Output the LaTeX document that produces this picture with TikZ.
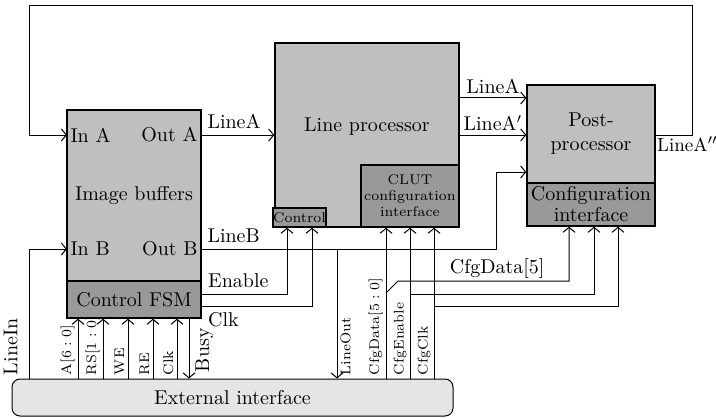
\documentclass[tikz,border=0pt]{standalone}
\usepackage{tikz}
\usetikzlibrary{arrows.meta}

\definecolor{boxgray}{gray}{0.75}
\definecolor{subgray}{gray}{0.6}
\definecolor{extgray}{gray}{0.9}

\begin{document}
\begin{tikzpicture}[x=0.5pt, y=-0.5pt, line width=0.5pt,
    >={Straight Barb[length=2.5pt,width=6pt]},
    box/.style={draw, fill=boxgray, line width=0.7pt, inner sep=0pt},
    subbox/.style={draw, fill=subgray, line width=0.7pt, inner sep=0pt},
    port/.style={inner sep=1.5pt},
    vlabel/.style={font=\scriptsize, rotate=90, inner sep=1.5pt}]
    \useasboundingbox (0,0) rectangle (716,417);

    % blocks
    \node[box, minimum width=67pt, minimum height=85.5pt] (buf) at (134,195.5) {Image buffers};
    \node[subbox, minimum width=67pt, minimum height=18.5pt] (fsm) at (134,299.5) {Control FSM};
    \node[box, minimum width=92pt, minimum height=92pt,
        label={[yshift=4pt]center:Line processor}] (lp) at (367,135) {};
    \node[subbox, minimum width=49pt, minimum height=31pt, font=\scriptsize, align=center]
        (clut) at (410,196) {CLUT\\configuration\\interface};
    \node[subbox, minimum width=24.5pt, minimum height=9.5pt, font=\scriptsize] (ctl) at (299.5,217.5) {Control};
    \node[box, minimum width=64pt, minimum height=49pt, align=center] (pp) at (591,134) {Post-\\processor};
    \node[subbox, minimum width=64pt, minimum height=21.5pt, align=center,
        font=\fontsize{10}{10.5}\selectfont] (cfg) at (591,204.5) {Configuration\\interface};
    \node[draw, fill=extgray, rounded corners=4pt, minimum width=220.5pt, minimum height=18.5pt]
        (ext) at (232.5,397.5) {External interface};

    % ports of the image buffers
    \node[port, anchor=west] (ina) at (67,135) {In A};
    \node[port, anchor=east] (outa) at (201,135) {Out A};
    \node[port, anchor=west] (inb) at (67,249) {In B};
    \node[port, anchor=east] (outb) at (201,249) {Out B};

    % data path
    \draw[->] (outa.east) node[anchor=south west, inner sep=3pt] (la) {LineA} -- (lp.west |- outa.east);
    \draw[->] (lp.east |- 0,98) -- node[above, inner sep=2pt] (lap) {LineA} (pp.west |- 0,98);
    \draw[->] (lp.east |- 0,135) -- node[above, inner sep=2pt] (lapp) {LineA$'$} (pp.west |- 0,135);
    \draw[->] (pp.east |- 0,135) node[anchor=north west, inner sep=0.5pt, font=\fontsize{9.5}{11}\selectfont] (lappp) {LineA$''$}
        -- (692,135) |- (29,6) |- (ina.west);
    \draw[->] (outb.east) node[anchor=south west, inner sep=3pt] (lb) {LineB}
        -- (496,249) |- (pp.west |- 0,172);
    \coordinate (tap) at (337,249);
    \draw[->] (tap) -- (ext.north -| tap) node[vlabel, anchor=north west] (lo) {LineOut};
    \draw[->] (ext.north -| 29,0) node[vlabel, font=\normalsize, anchor=south west, yshift=4pt] (li) {LineIn}
        |- (inb.west);

    % control
    \draw[->] (fsm.east |- 0,294) node[anchor=south west, inner sep=3pt] (en) {Enable} -| (ctl.south -| 287,0);
    \draw[->] (fsm.east |- 0,306) node[anchor=north west, inner sep=3pt] (ck) {Clk} -| (ctl.south -| 312,0);
    \foreach \x/\name in {78/{A$[6:0]$}, 103/{RS$[1:0]$}, 128/WE, 153/RE, 177/Clk}
        \draw[->] (ext.north -| \x,0) node[vlabel, anchor=south west] (s\x) {\name} -- (fsm.south -| \x,0);
    \draw[->] (fsm.south -| 189,0) -- (ext.north -| 189,0)
        node[vlabel, font=\normalsize, anchor=north west, inner sep=3pt] (busy) {Busy};

    % configuration
    \foreach \x/\name in {386/{CfgData$[5:0]$}, 410/CfgEnable, 434/CfgClk}
        \draw[->] (ext.north -| \x,0) node[vlabel, anchor=south west] (c\x) {\name} -- (clut.south -| \x,0);
    \draw[->] (386,293) -- (398,281) -- node[pos=0.58, above, inner sep=1pt] (cd) {CfgData$[5]$}
        (569,281) -- (cfg.south -| 569,0);
    \draw[->] (410,294) -| (cfg.south -| 594,0);
    \draw[->] (434,306) -| (cfg.south -| 618,0);
\end{tikzpicture}
\end{document}
